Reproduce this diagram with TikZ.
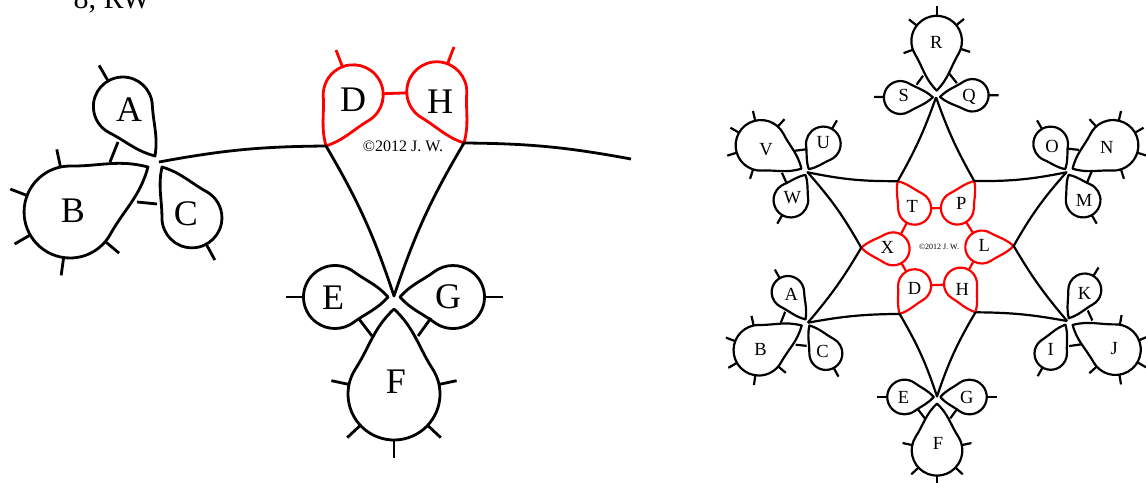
\documentclass[tikz,border=0pt]{standalone}
\usepackage{fontspec}
\setmainfont{Liberation Serif}
\newcommand\ticklen{18}
% petal: tip x, tip y, axis angle (screen, y down), tip-to-head-centre d, head radius r, bulge, extra code
\newcommand\petal[7]{%
  \begin{scope}[shift={(#1,#2)},rotate={-(#3)}]
    \def\pd{#4}\def\pr{#5}%
    \pgfmathsetmacro\pa{asin((#5)/(#4))}%
    \pgfmathsetmacro\ps{sqrt((#4)*(#4)-(#5)*(#5))}%
    \pgfmathsetmacro\pb{#6}%
    \draw (0,0) .. controls ({\pa+\pb}:{\ps*0.4}) and ({\pa}:{0.62*\ps}) .. ({\pa}:{\ps})
      arc[start angle={90+\pa}, end angle={-90-\pa}, radius={#5}]
      .. controls ({-\pa}:{0.62*\ps}) and ({-\pa-\pb}:{\ps*0.4}) .. cycle;
    #7%
  \end{scope}}
\newcommand\tk[1]{\draw ({\pd+\pr*cos(#1)},{\pr*sin(#1)}) -- ({\pd+(\pr+\ticklen)*cos(#1)},{(\pr+\ticklen)*sin(#1)});}
\newcommand\pc[2]{\coordinate (#1) at ({\pd+\pr*cos(#2)},{\pr*sin(#2)});}
\newcommand\pt[2]{\coordinate (#1) at ({\pd+(\pr+\ticklen)*cos(#2)},{(\pr+\ticklen)*sin(#2)});}
% one sextant unit, drawn in the coordinates of the large left picture
\newcommand\myunit[9]{%
  \petal{155}{156}{-123}{59}{29.5}{12}{\tk{3}}%
  \petal{148}{167}{150}{90}{46}{14}{\tk{108}\tk{51}\tk{0}\tk{-52}\tk{-110}}%
  \petal{162}{167}{59.5}{59}{30}{12}{\tk{2}}%
  \petal{388}{297}{180}{53}{31.5}{12}{\tk{0}}%
  \petal{400}{297}{0}{53}{31.5}{12}{\tk{0}}%
  \petal{394}{309}{90}{85}{46}{14}{\tk{102}\tk{47}\tk{0}\tk{-47}\tk{-102}}%
  \coordinate (#1ab1) at (118,142); \coordinate (#1ab2) at (110,162);
  \coordinate (#1bc1) at (137,202); \coordinate (#1bc2) at (157,204);
  \coordinate (#1ef1) at (359,319); \coordinate (#1ef2) at (372,336);
  \coordinate (#1gf1) at (431,318); \coordinate (#1gf2) at (418,336);
  \draw (#1ab1) -- (#1ab2) (#1bc1) -- (#1bc2) (#1ef1) -- (#1ef2) (#1gf1) -- (#1gf2);
  \begin{scope}[red]
    \petal{326}{146}{-62}{58}{30}{12}{\pc{#1Dt0}{-49}\pt{#1Dt1}{-49}\pc{#1Dbr}{-58}\pc{#1DHa}{60}}%
    \petal{464}{143}{-118}{58}{30}{12}{\pc{#1Ht0}{49}\pt{#1Ht1}{49}\pc{#1Hbr}{58}\pc{#1DHb}{-64}}%
    \draw (#1DHa) -- (#1DHb);
  \end{scope}
  \coordinate (#1hA) at (159,162);
  \coordinate (#1hF) at (394,296);
  \coordinate (#1Dc) at (326,146);
  \coordinate (#1Hc) at (464,143);
  \coordinate (#1nx) at (631,159);
  \node[lab] (#1nA) at (129,110) {#2};
  \node[lab] (#1nB) at (73,211) {#3};
  \node[lab] (#1nC) at (186,214) {#4};
  \node[lab] (#1nD) at (353,100) {#5};
  \node[lab] (#1nH) at (440,102) {#6};
  \node[lab] (#1nE) at (333,298) {#7};
  \node[lab] (#1nF) at (396,382) {#8};
  \node[lab] (#1nG) at (448,297) {#9};
}
\begin{document}
\begin{tikzpicture}[x=1pt,y=-1pt,line join=round]
\useasboundingbox (0,0) rectangle (1146,482);
% ---------- left picture ----------
\begin{scope}[line width=2.8pt, lab/.style={font=\fontsize{36}{40}\selectfont}]
  \myunit{L}{A}{B}{C}{D}{H}{E}{F}{G}
  \draw (LhA) to[bend left=5] (LDc) to[bend left=6] (LhF) to[bend left=6] (LHc) to[bend left=5] (Lnx);
  \draw[red] (LDt0) -- (LDt1) (LHt0) -- (LHt1);
\end{scope}
\node[font=\fontsize{16}{18}\selectfont] (cpL) at (403,146) {\textcopyright2012 J. W.};
\node[font=\fontsize{30}{32}\selectfont, anchor=base] (ttl) at (112,8) {8, RW};
% ---------- right picture ----------
\begin{scope}[line width=2.2pt, lab/.style={font=\fontsize{18.5}{20}\selectfont}]
  \begin{scope}[shift={(937,247)}, scale=0.55, shift={(-394,-24.3)}]
    \myunit{Ra}{A}{B}{C}{D}{H}{E}{F}{G}
  \end{scope}
  \begin{scope}[shift={(937,247)}, rotate=-120, scale=0.55, shift={(-394,-24.3)}]
    \myunit{Rb}{Q}{R}{S}{T}{X}{U}{V}{W}
  \end{scope}
  \begin{scope}[shift={(937,247)}, rotate=-240, scale=0.55, shift={(-394,-24.3)}]
    \myunit{Rc}{I}{J}{K}{L}{P}{M}{N}{O}
  \end{scope}
  \draw (RahA) to[bend left=5] (RaDc) to[bend left=6] (RahF) to[bend left=6] (RaHc) to[bend left=5] (RchA);
  \draw (RbhA) to[bend left=5] (RbDc) to[bend left=6] (RbhF) to[bend left=6] (RbHc) to[bend left=5] (RahA);
  \draw (RchA) to[bend left=5] (RcDc) to[bend left=6] (RchF) to[bend left=6] (RcHc) to[bend left=5] (RbhA);
  \draw[red] (RaHbr) -- (RcDbr) (RbHbr) -- (RaDbr) (RcHbr) -- (RbDbr);
\end{scope}
\node[font=\fontsize{8}{9}\selectfont] (cpR) at (939,247) {\textcopyright2012 J. W.};
\end{tikzpicture}
\end{document}
